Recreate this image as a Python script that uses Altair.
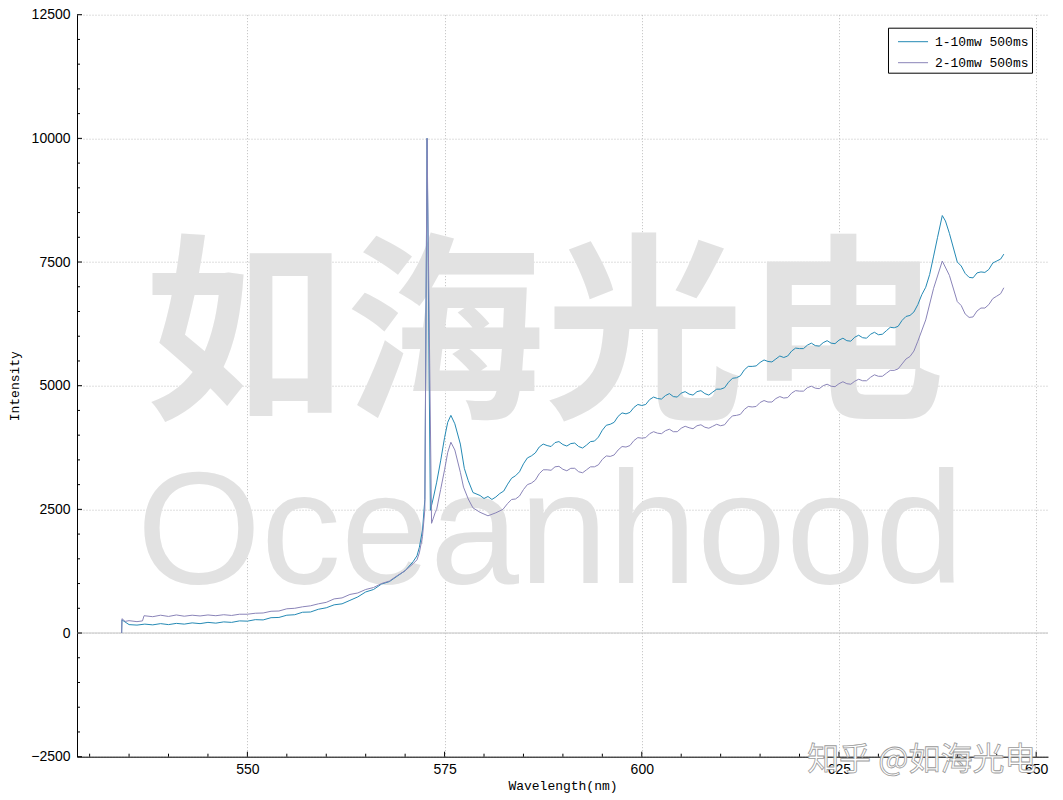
import altair as alt
import pandas as pd

# ---------------- data ----------------
series_names = ["1-10mw 500ms", "2-10mw 500ms"]
series_colors = ["#2389b4", "#8a84b8"]

wl_1 = [534.06, 534.1, 535, 536, 537, 538, 539, 540, 541, 542, 543, 544, 545, 546, 547, 548, 549,
        550, 551, 552, 553, 554, 555, 556, 557, 558, 559, 560, 561, 562, 563, 564, 565, 566, 567,
        568, 569, 570, 571, 571.5, 571.8, 572.2, 572.5, 572.78, 573.2, 573.6, 574, 574.5, 575,
        575.4, 575.8, 576.3, 577, 577.5, 578, 578.6, 579.5, 580, 580.5, 581, 581.5, 582, 583, 584,
        585, 586, 587, 588, 589, 590, 591, 592, 593, 594, 595, 596, 597, 598, 599, 600, 601, 602,
        603, 604, 605, 606, 607, 608, 609, 610, 611, 612, 613, 614, 615, 616, 617, 618, 619, 620,
        621, 622, 623, 624, 625, 626, 627, 628, 629, 630, 631, 632, 633, 634, 635, 636, 637, 637.5,
        638.1, 638.5, 639, 640, 641, 642, 643, 644, 645, 645.9]
int_1 = [0, 265, 170, 160, 180, 165, 190, 170, 195, 180, 205, 190, 215, 200, 225, 215, 245,
         240, 270, 265, 310, 315, 360, 370, 420, 425, 480, 510, 570, 590, 660, 730, 830, 880, 990,
         1040, 1150, 1260, 1440, 1560, 1730, 2080, 2700, 10000, 2480, 2750, 3050, 3480, 3950,
         4260, 4400, 4230, 3820, 3330, 3080, 2840, 2780, 2720, 2760, 2700, 2750, 2820, 3010, 3180,
         3420, 3580, 3760, 3790, 3850, 3810, 3830, 3770, 3800, 3880, 4100, 4220, 4380, 4430, 4560, 4600, 4720, 4740,
         4800, 4780, 4850, 4830, 4880, 4840, 4870, 4930, 5070, 5160, 5320, 5390, 5470, 5490, 5540, 5570, 5700, 5750,
         5820, 5810, 5870, 5860, 5920, 5910, 5980, 5970, 6040, 6030, 6110, 6170, 6320, 6420, 6640, 6990, 7620, 8000,
         8440, 8330, 8080, 7500, 7270, 7180, 7300, 7350, 7520, 7660]
# extra in-between readings of series 1 (the noisy wiggle of the trace)
wl_1_mid = [582.5, 583.5, 584.5, 585.5, 586.5, 587.5, 588.5, 589.5, 590.5, 591.5, 592.5, 593.5,
            594.5, 595.5, 596.5, 597.5, 598.5, 599.5, 600.5, 601.5, 602.5, 603.5, 604.5, 605.5,
            606.5, 607.5, 608.5, 609.5, 610.5, 611.5, 612.5, 613.5, 614.5, 615.5, 616.5, 617.5,
            618.5, 619.5, 620.5, 621.5, 622.5, 623.5, 624.5, 625.5, 626.5, 627.5, 628.5, 629.5,
            630.5, 631.5, 632.5, 633.5, 634.5, 635.5, 636.5, 640.5, 641.5, 642.5, 643.5, 644.5, 645.5]
int_1_mid = [2870, 3130, 3260, 3540, 3640, 3820, 3770, 3870, 3780, 3840, 3740, 3870,
             3960, 4200, 4260, 4450, 4460, 4620, 4620, 4770, 4730, 4840, 4770, 4880,
             4810, 4900, 4810, 4930, 4960, 5150, 5200, 5390, 5400, 5520, 5480, 5600,
             5600, 5760, 5750, 5860, 5800, 5910, 5850, 5960, 5900, 6020, 5960, 6080,
             6040, 6180, 6200, 6400, 6490, 6840, 7250, 7420, 7190, 7280, 7290, 7480, 7560]

wl_2 = [534.06, 534.1, 534.5, 535, 536, 536.7, 536.9, 538, 539, 540, 541, 542, 543, 544, 545, 546,
        547, 548, 549, 550, 551, 552, 553, 554, 555, 556, 557, 558, 559, 560, 561, 562, 563, 564,
        565, 566, 567, 568, 569, 570, 571, 571.5, 571.8, 572.2, 572.5, 572.78, 573.35, 573.8, 574,
        574.5, 575, 575.4, 575.8, 576.3, 577, 577.4, 578, 578.6, 579.5, 580.5, 581.5, 582.4, 583,
        584, 585, 586, 587, 588, 589, 590, 591, 592, 593, 594, 595, 596, 597, 598, 599, 600, 601,
        602, 603, 604, 605, 606, 607, 608, 609, 610, 611, 612, 613, 614, 615, 616, 617, 618, 619,
        620, 621, 622, 623, 624, 625, 626, 627, 628, 629, 630, 631, 632, 633, 634, 635, 636, 637,
        638.1, 639, 640, 641, 642, 643, 644, 645, 645.9]
int_2 = [0, 290, 235, 250, 230, 245, 350, 330, 360, 335, 365, 340, 360, 345, 365, 350,
         370, 355, 380, 380, 400, 405, 440, 445, 490, 500, 530, 550, 590, 620, 690, 710, 780, 810,
         880, 920, 1000, 1050, 1160, 1260, 1400, 1480, 1620, 1950, 2500, 10000, 2218, 2430, 2500,
         2900, 3300, 3650, 3857, 3700, 3250, 2950, 2710, 2530, 2440, 2370, 2430, 2500, 2620,
         2710, 2900, 3030, 3220, 3300, 3360, 3310, 3330, 3260, 3300, 3360, 3510, 3570, 3700, 3760, 3890, 3940, 4030,
         4040, 4090, 4070, 4140, 4150, 4190, 4160, 4180, 4190, 4310, 4400, 4520, 4570, 4660, 4670, 4740, 4750, 4850,
         4890, 4960, 4950, 5000, 4990, 5040, 5040, 5090, 5100, 5170, 5190, 5250, 5310, 5440, 5590, 5900, 6330, 6970,
         7520, 7230, 6700, 6450, 6390, 6570, 6640, 6810, 6980]
wl_2_mid = [583.5, 584.5, 585.5, 586.5, 587.5, 588.5, 589.5, 590.5, 591.5, 592.5, 593.5, 594.5,
            595.5, 596.5, 597.5, 598.5, 599.5, 600.5, 601.5, 602.5, 603.5, 604.5, 605.5, 606.5,
            607.5, 608.5, 609.5, 610.5, 611.5, 612.5, 613.5, 614.5, 615.5, 616.5, 617.5, 618.5,
            619.5, 620.5, 621.5, 622.5, 623.5, 624.5, 625.5, 626.5, 627.5, 628.5, 629.5, 630.5,
            631.5, 632.5, 633.5, 634.5, 640.5, 641.5, 642.5, 643.5, 644.5, 645.5]
int_2_mid = [2700, 2770, 3000, 3090, 3300, 3290, 3370, 3280, 3330, 3240, 3360, 3400,
             3580, 3600, 3770, 3790, 3950, 3950, 4070, 4030, 4120, 4070, 4180, 4130,
             4210, 4140, 4220, 4210, 4390, 4420, 4580, 4580, 4700, 4670, 4780, 4760,
             4900, 4890, 4990, 4940, 5030, 4980, 5080, 5030, 5130, 5100, 5220, 5190,
             5310, 5340, 5540, 5700, 6620, 6380, 6510, 6570, 6760, 6860]

x_major_ticks = [550, 575, 600, 625, 650]
x_minor_ticks = [530, 535, 540, 545, 555, 560, 565, 570, 580, 585, 590, 595, 605, 610, 615, 620,
                 630, 635, 640, 645]
y_major_ticks = [-2500, 0, 2500, 5000, 7500, 10000, 12500]
y_minor_ticks = [-2000, -1500, -1000, -500, 500, 1000, 1500, 2000, 3000, 3500, 4000, 4500,
                 5500, 6000, 6500, 7000, 8000, 8500, 9000, 9500, 10500, 11000, 11500, 12000]

watermark_text = ["如海光电", "Oceanhood"]
watermark_nm = [587.7, 588.4]
watermark_int = [5870, 1990]
credit_text = ["知乎 @如海光电"]
credit_nm = [635.5]
credit_int = [-2560]

x_domain = [528.4, 651.5]
y_domain = [-2500, 12500]

# ---------------- build tables ----------------
df = pd.concat([
    pd.DataFrame({"wavelength": wl_1 + wl_1_mid, "intensity": int_1 + int_1_mid, "series": series_names[0]}),
    pd.DataFrame({"wavelength": wl_2 + wl_2_mid, "intensity": int_2 + int_2_mid, "series": series_names[1]}),
], ignore_index=True).sort_values(["series", "wavelength"]).reset_index(drop=True)

xs = alt.Scale(domain=x_domain, nice=False, zero=False)
ys = alt.Scale(domain=y_domain, nice=False, zero=False)

mono = "Liberation Mono"
sans = "Liberation Sans"

x_axis = alt.Axis(values=x_major_ticks, format="d", grid=True, gridDash=[1, 2], gridColor="#bdbdbd",
                  ticks=False, domain=True, domainColor="#000000", domainWidth=1,
                  labelFont=sans, labelFontSize=14, labelColor="#000000", labelPadding=6,
                  title="Wavelength(nm)", titleFont=mono, titleFontSize=13,
                  titleFontWeight="normal", titleColor="#000000", titlePadding=3)
y_axis = alt.Axis(values=y_major_ticks, format="d", grid=True, gridDash=[1, 2], gridColor="#bdbdbd",
                  ticks=False, domain=True, domainColor="#000000", domainWidth=1,
                  labelFont=sans, labelFontSize=14, labelColor="#000000", labelPadding=7,
                  title="Intensity", titleFont=mono, titleFontSize=13,
                  titleFontWeight="normal", titleColor="#000000", titlePadding=9)

X = lambda: alt.X("wavelength:Q", scale=xs)
Y = lambda: alt.Y("intensity:Q", scale=ys)

# watermark
wm_df = pd.DataFrame({"t": watermark_text, "wavelength": watermark_nm, "intensity": watermark_int})
wm_cjk = alt.Chart(wm_df.iloc[[0]]).mark_text(
    font="Noto Sans CJK SC", fontSize=200, fontWeight="bold", color="#e2e2e2",
    align="center", baseline="middle"
).encode(x=X(), y=Y(), text="t:N")
wm_lat = alt.Chart(wm_df.iloc[[1]]).mark_text(
    font=sans, fontSize=160, color="#e2e2e2", align="center", baseline="middle"
).encode(x=X(), y=Y(), text="t:N")

cr_df = pd.DataFrame({"t": credit_text, "wavelength": credit_nm, "intensity": credit_int})
credit = alt.Chart(cr_df).mark_text(
    font="Noto Sans CJK SC", fontSize=32, fill="#ffffff", stroke="#9a9a9a", strokeWidth=0.8,
    align="center", baseline="middle"
).encode(x=X(), y=Y(), text="t:N")

zero_line = alt.Chart(pd.DataFrame({"intensity": [0]})).mark_rule(color="#c6c6c6", strokeWidth=1).encode(
    y=Y())

lines = alt.Chart(df).mark_line(strokeWidth=1).encode(
    x=alt.X("wavelength:Q", scale=xs, axis=x_axis),
    y=alt.Y("intensity:Q", scale=ys, axis=y_axis),
    color=alt.Color("series:N", scale=alt.Scale(domain=series_names, range=series_colors),
                    legend=alt.Legend(title=None, orient="none", legendX=811, legendY=13,
                                      direction="vertical", symbolType="M-0.38,0H2.48",
                                      symbolSize=441, symbolStrokeWidth=1,
                                      labelFont=mono, labelFontSize=13, labelColor="#000000",
                                      labelOffset=22, labelLimit=0, labelExpr="datum.label + ' '",
                                      padding=3, rowPadding=3, strokeColor="#000000",
                                      fillColor="#ffffff", cornerRadius=0)),
)

tick_x_minor = alt.Chart(pd.DataFrame({"wavelength": x_minor_ticks})).mark_rule(color="#000000").encode(
    x=X(), y=alt.value(742), y2=alt.value(739))
tick_x_major = alt.Chart(pd.DataFrame({"wavelength": x_major_ticks})).mark_rule(color="#000000").encode(
    x=X(), y=alt.value(742), y2=alt.value(737))
tick_y_minor = alt.Chart(pd.DataFrame({"intensity": y_minor_ticks})).mark_rule(color="#000000").encode(
    y=Y(), x=alt.value(0), x2=alt.value(3))
tick_y_major = alt.Chart(pd.DataFrame({"intensity": y_major_ticks})).mark_rule(color="#000000").encode(
    y=Y(), x=alt.value(0), x2=alt.value(5))

chart = alt.layer(
    wm_cjk, wm_lat, zero_line, lines, tick_x_minor, tick_x_major, tick_y_minor, tick_y_major, credit
).properties(
    width=971, height=742,
    autosize=alt.AutoSizeParams(type="none"),
    padding={"left": 69, "top": 6.7, "right": 7, "bottom": 37},
    background="#ffffff",
).configure_view(stroke=None)

chart.save("out.html", embed_options={"renderer": "svg", "actions": False})
